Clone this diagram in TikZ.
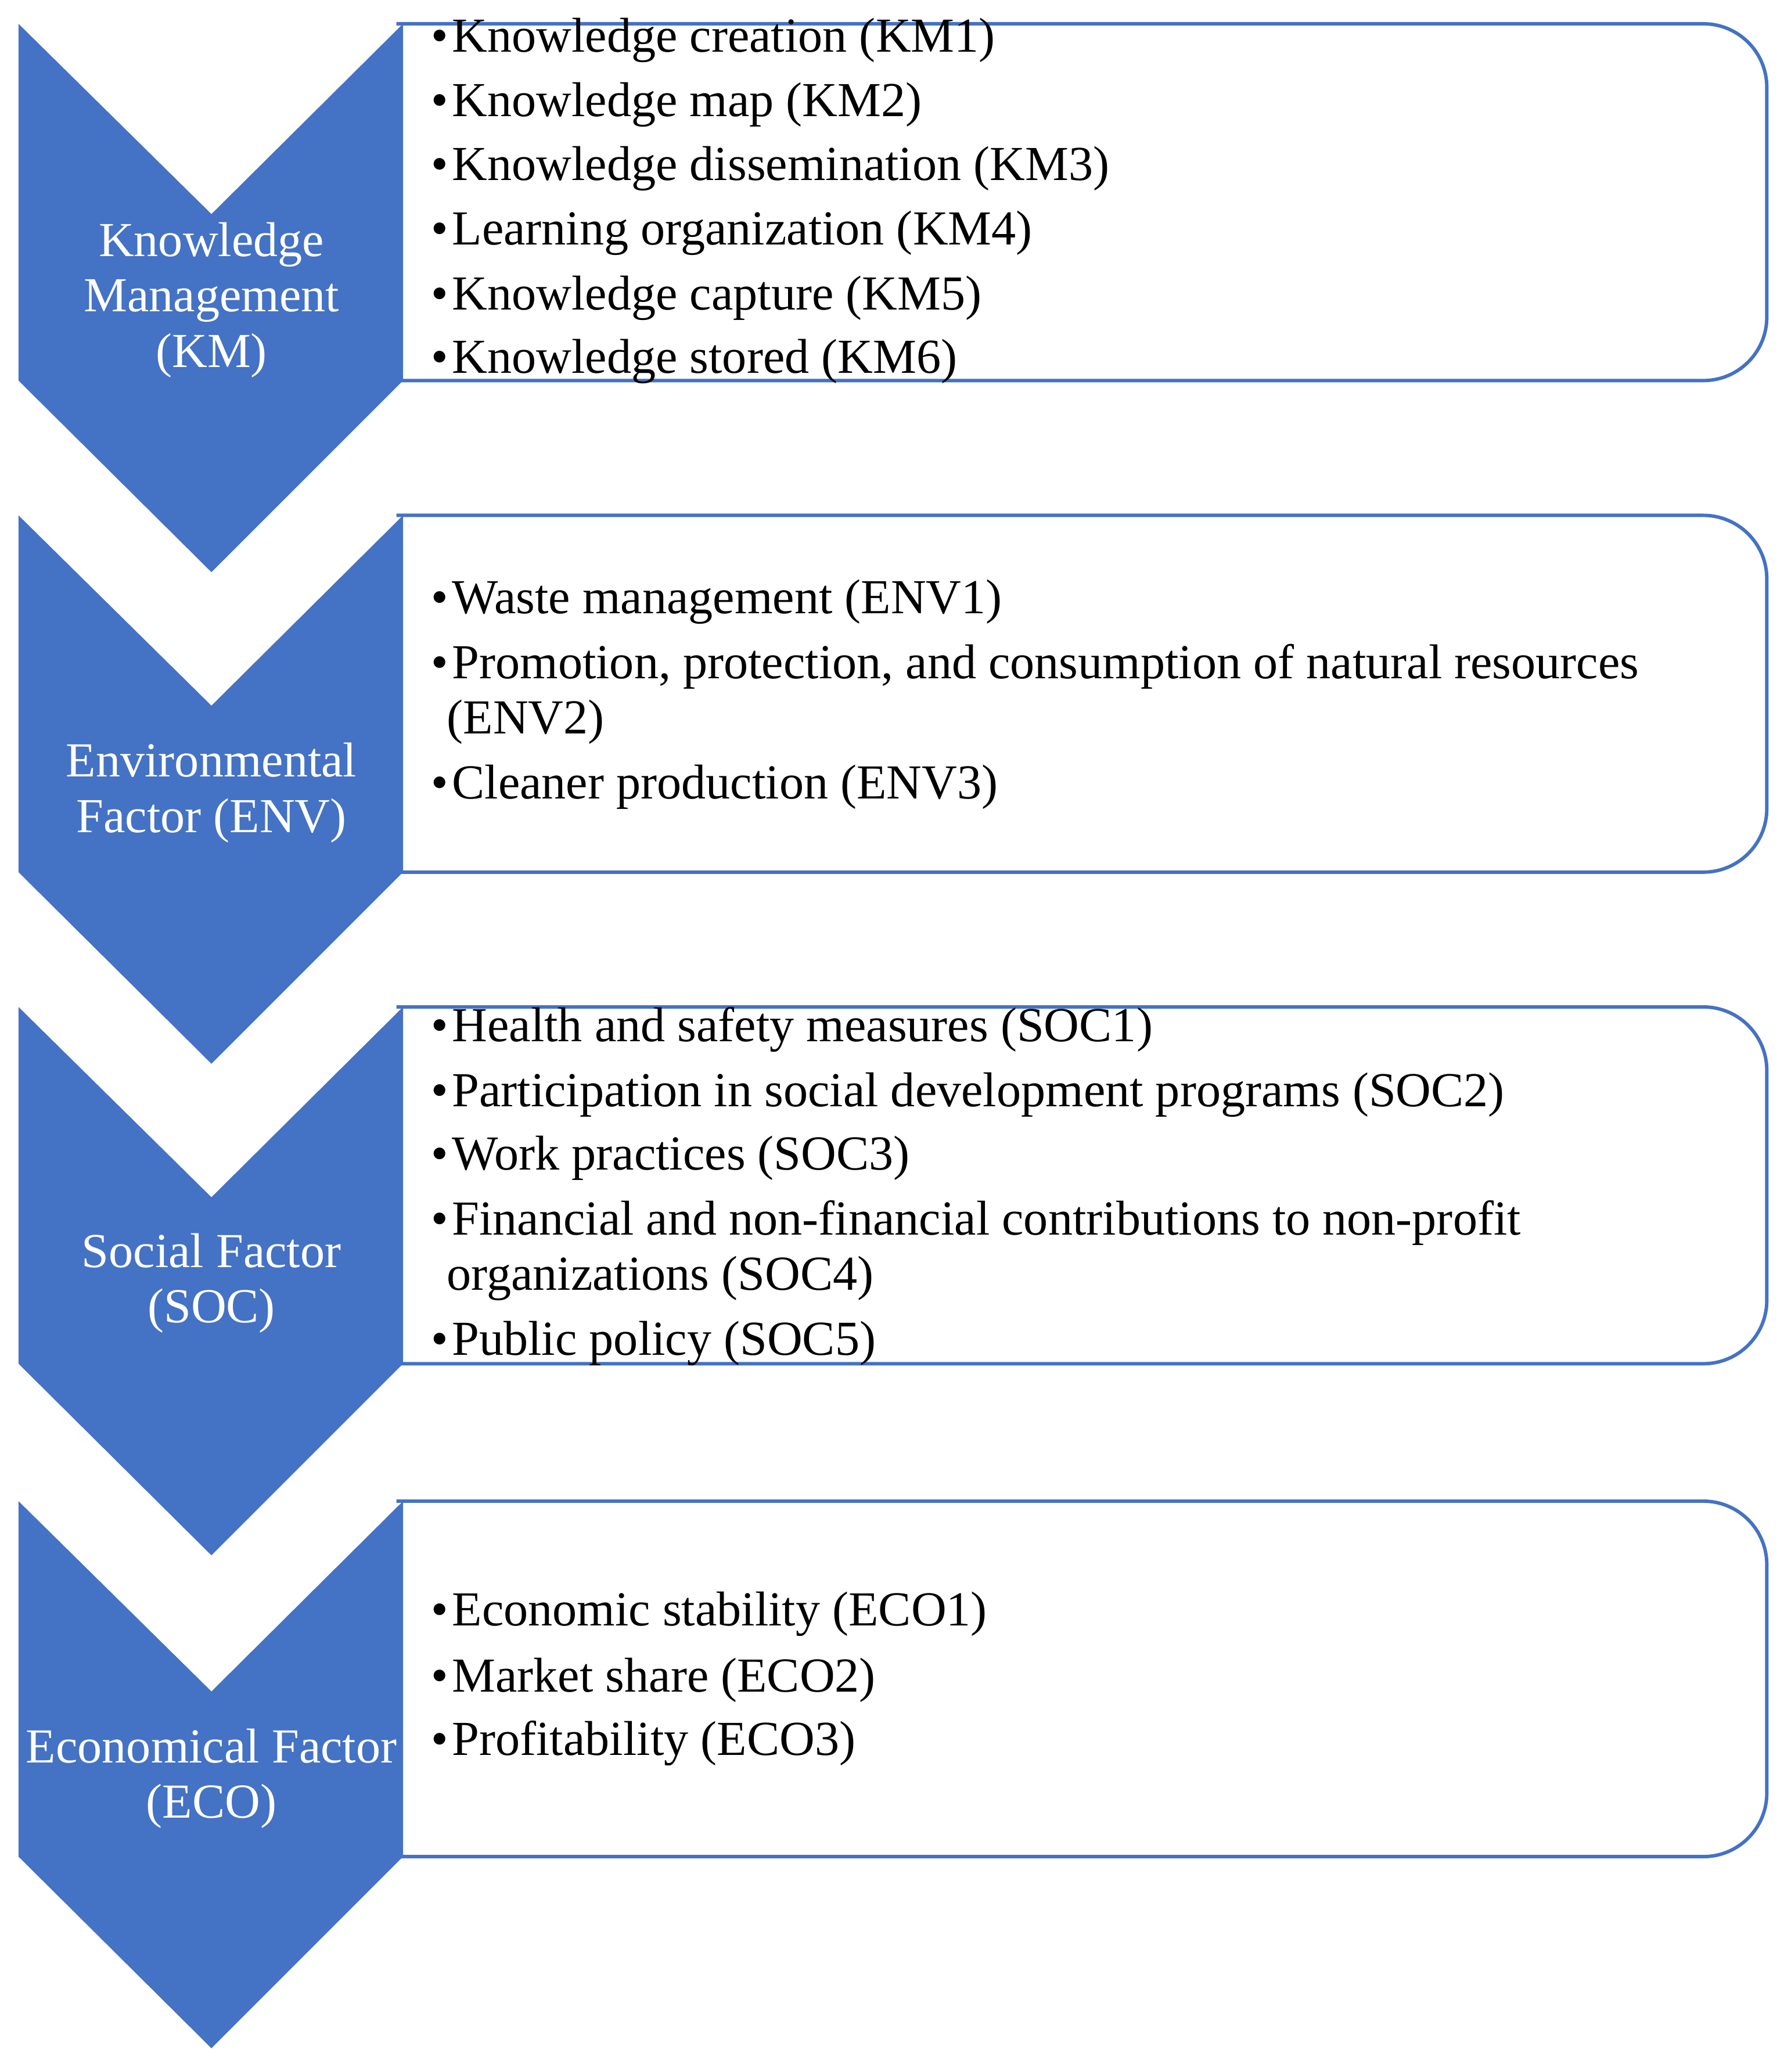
\documentclass[tikz,border=0pt]{standalone}
\usepackage{fontspec}
\setmainfont{Liberation Serif}
\definecolor{cb}{HTML}{4472C4}
\begin{document}
\begin{tikzpicture}[x=1pt,y=-1pt,
  chev/.style={fill=cb,draw=none},
  rbox/.style={draw=cb,line width=2.6pt,rounded corners=48pt},
  lab/.style={text=white,align=center,font=\fontsize{37}{42}\selectfont},
  itm/.style={anchor=mid west,font=\fontsize{37}{42}\selectfont,inner sep=0pt}]
\useasboundingbox (0,0) rectangle (1350,1568);
\foreach \t/\b in {18/288,390/660,762/1032,1136/1405}{
  \draw[rbox] (300,\t) -- (1337,\t) -- (1337,\b) -- (300,\b);
}
\foreach \t/\b in {18/288,390/660,762/1032,1136/1405}{
  \fill[chev] (14,\t) -- (160,\t+144) -- (305,\t) -- (305,\b) -- (160,\b+145) -- (14,\b) -- cycle;
}
\node[lab] (km) at (160,227) {Knowledge\\Management\\(KM)};
\node[lab] (env) at (160,600) {Environmental\\Factor (ENV)};
\node[lab] (soc) at (160,971) {Social Factor\\(SOC)};
\node[lab] (eco) at (160,1346) {Economical Factor\\(ECO)};
\foreach \y/\s in {31/Knowledge creation (KM1),80/Knowledge map (KM2),128/Knowledge dissemination (KM3),177/Learning organization (KM4),226/Knowledge capture (KM5),274/Knowledge stored (KM6),
456/Waste management (ENV1),505/{Promotion, protection, and consumption of natural resources},596/Cleaner production (ENV3),
780/Health and safety measures (SOC1),829/Participation in social development programs (SOC2),877/Work practices (SOC3),926/Financial and non-financial contributions to non-profit,1017/Public policy (SOC5),
1222/Economic stability (ECO1),1272/Market share (ECO2),1320/Profitability (ECO3)}{
  \node[itm] at (326,\y+6) {\textbullet\hspace{3pt}\s};
}
\node[itm] (e2) at (338,553) {(ENV2)};
\node[itm] (s4) at (338,974) {organizations (SOC4)};
\end{tikzpicture}
\end{document}
